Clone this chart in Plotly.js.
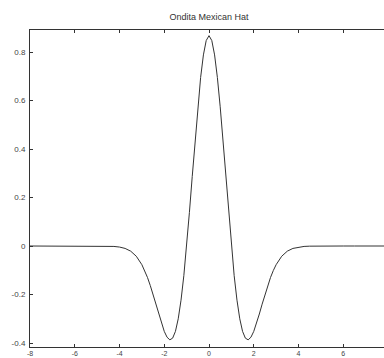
<!DOCTYPE html>
<html>
<head>
<meta charset="utf-8">
<script src="https://cdn.plot.ly/plotly-3.0.1.min.js"></script>
<style>html,body{margin:0;padding:0;overflow:hidden;background:#fff;}#chart{width:391px;height:358px;}</style>
</head>
<body>
<div id="chart"></div>
<script>
// Mexican hat wavelet values
var xs = [-8,-7.5,-7,-6.5,-6,-5.5,-5,-4.75,-4.5,-4.25,-4,-3.75,-3.5,-3.25,-3,-2.875,-2.75,-2.625,-2.5,-2.375,-2.25,-2.125,-2,-1.875,-1.75,-1.625,-1.5,-1.375,-1.25,-1.125,-1,-0.875,-0.75,-0.625,-0.5,-0.375,-0.25,-0.125,0,0.125,0.25,0.375,0.5,0.625,0.75,0.875,1,1.125,1.25,1.375,1.5,1.625,1.75,1.875,2,2.125,2.25,2.375,2.5,2.625,2.75,2.875,3,3.25,3.5,3.75,4,4.25,4.5,4.75,5,5.5,6,6.5,7,7.5,8];
var ys = [0,0,0,0,0,0,-0.0001,-0.0002,-0.0007,-0.0018,-0.0044,-0.0100,-0.0213,-0.0422,-0.0771,-0.1010,-0.1297,-0.1629,-0.2001,-0.2398,-0.2804,-0.3189,-0.3521,-0.3762,-0.3869,-0.3800,-0.3520,-0.3002,-0.2234,-0.1223,0,0.1386,0.2864,0.4347,0.5741,0.6947,0.7881,0.8471,0.8673,0.8471,0.7881,0.6947,0.5741,0.4347,0.2864,0.1386,0,-0.1223,-0.2234,-0.3002,-0.3520,-0.3800,-0.3869,-0.3762,-0.3521,-0.3189,-0.2804,-0.2398,-0.2001,-0.1629,-0.1297,-0.1010,-0.0771,-0.0422,-0.0213,-0.0100,-0.0044,-0.0018,-0.0007,-0.0002,-0.0001,0,0,0,0,0,0];
var xTickVals = [-8,-6,-4,-2,0,2,4,6,8];
var xTickText = ['-8','-6','-4','-2','0','2','4','6',''];
var yTickVals = [-0.4,-0.2,0,0.2,0.4,0.6,0.8];
var yTickText = ['-0.4','-0.2','0','0.2','0.4','0.6','0.8'];
var titleText = 'Ondita Mexican Hat';

var trace = {x: xs, y: ys, type: 'scatter', mode: 'lines',
  line: {color: '#333', width: 1}, hoverinfo: 'none'};

var yFont = {family: 'Liberation Sans, Arial, sans-serif', size: 8, color: '#444'};
var xFont = {family: 'Liberation Sans, Arial, sans-serif', size: 7, color: '#444'};
var layout = {
  width: 391, height: 358,
  margin: {l: 30, r: 3, t: 30, b: 11, pad: 0},
  paper_bgcolor: '#fff', plot_bgcolor: '#fff',
  showlegend: false,
  title: {text: titleText, x: 0.5, xref: 'paper', y: 1, yref: 'container', yanchor: 'top', pad: {t: 14},
          font: {family: 'Liberation Sans, Arial, sans-serif', size: 9, color: '#333'}},
  xaxis: {range: [-8, 8], tickmode: 'array', tickvals: xTickVals, ticktext: xTickText,
          ticks: 'inside', ticklen: 3, tickwidth: 1, tickcolor: '#333',
          showline: true, linecolor: '#333', linewidth: 1, mirror: 'ticks',
          showgrid: false, zeroline: false, tickfont: xFont, ticklabelstandoff: 0},
  yaxis: {range: [-0.4165, 0.8907], tickmode: 'array', tickvals: yTickVals, ticktext: yTickText,
          ticks: 'inside', ticklen: 3, tickwidth: 1, tickcolor: '#333',
          showline: true, linecolor: '#333', linewidth: 1, mirror: 'ticks',
          showgrid: false, zeroline: false, tickfont: yFont, ticklabelstandoff: 2}
};
Plotly.newPlot('chart', [trace], layout, {staticPlot: true, displayModeBar: false});
</script>
</body>
</html>
